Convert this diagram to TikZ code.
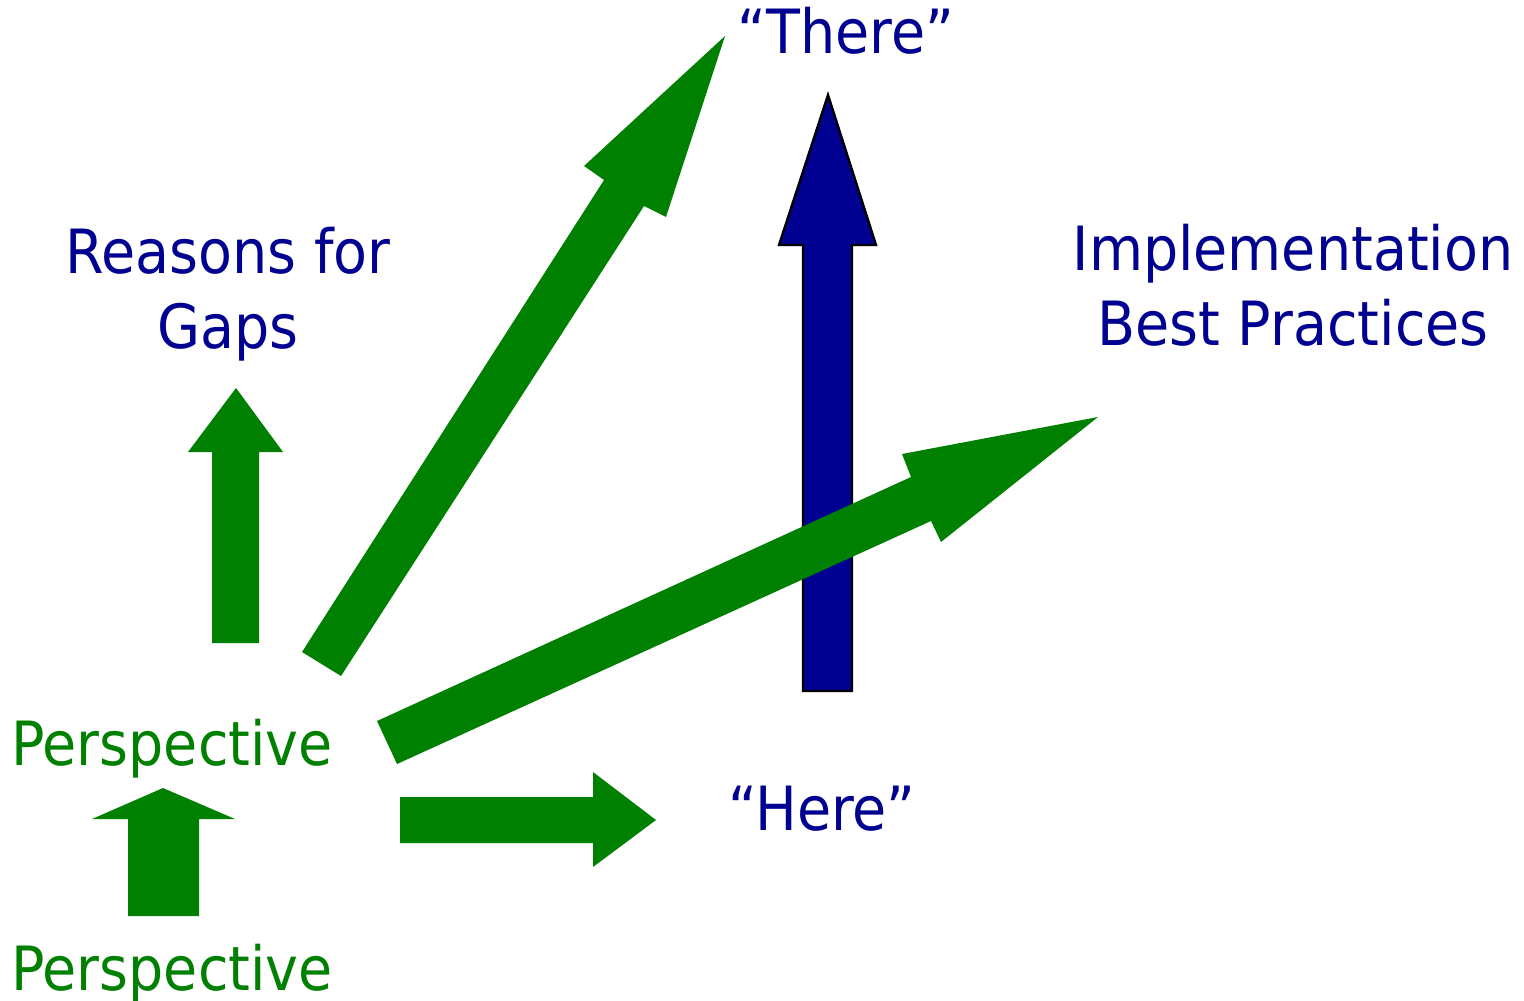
\documentclass[tikz,border=0pt]{standalone}
\usepackage{fontspec}
\setmainfont{DejaVu Sans}[FakeStretch=0.91]
\definecolor{arrowgreen}{RGB}{0,128,0}
\definecolor{deepblue}{RGB}{0,0,145}
\begin{document}
\begin{tikzpicture}[x=0.5pt,y=-0.5pt,
  greenarrow/.style={fill=arrowgreen,draw=none},
  bluearrow/.style={fill=deepblue,draw=black,line width=1.2pt,line join=miter},
  bluetext/.style={text=deepblue,font=\fontsize{30.5}{37.5}\selectfont,inner sep=0pt,anchor=base,align=center},
  greentext/.style={text=arrowgreen,font=\fontsize{30.5}{37.5}\selectfont,inner sep=0pt,anchor=base}]
\useasboundingbox (0,0) rectangle (1524,1000);

% labels (multi-line labels are anchored at the baseline of their last line)
\node[bluetext] (there) at (846,54) {“There”};
\node[bluetext] (here) at (822,830) {“Here”};
\node[bluetext] (reasons) at (228,348) {Reasons for\\Gaps};
\node[bluetext] (impl) at (1293,345) {Implementation\\Best Practices};
\node[greentext] (persp1) at (172,765) {Perspective};
\node[greentext] (persp2) at (172,990) {Perspective};

% blue arrow up to "There"
\draw[bluearrow] (803,691) -- (803,245) -- (779,245) -- (828,95) -- (876,245) -- (852,245) -- (852,691) -- cycle;

% green arrow up to "Reasons for Gaps"
\fill[greenarrow] (212,643) -- (212,452) -- (188,452) -- (236,388) -- (283,452) -- (259,452) -- (259,643) -- cycle;

% green arrow from lower to upper "Perspective"
\fill[greenarrow] (128,916) -- (128,819) -- (92,819) -- (163,788) -- (235,819) -- (199,819) -- (199,916) -- cycle;

% green arrow right to "Here"
\fill[greenarrow] (400,797) -- (593,797) -- (593,772) -- (656,820) -- (593,867) -- (593,843) -- (400,843) -- cycle;

% green arrow diagonally up to "There"
\fill[greenarrow] (302,652) -- (604,180) -- (584,166) -- (725,36) -- (666,217) -- (644,206) -- (341,676) -- cycle;

% green arrow towards "Implementation Best Practices"
\fill[greenarrow] (377,721) -- (911,477) -- (902,454) -- (1098,417) -- (941,542) -- (931,521) -- (397,764) -- cycle;
\end{tikzpicture}
\end{document}
